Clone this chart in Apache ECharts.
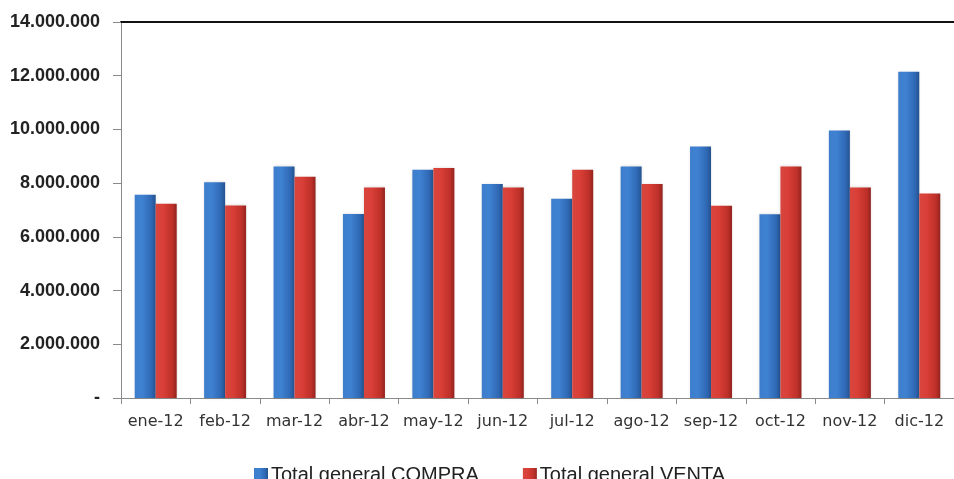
<!DOCTYPE html>
<html><head><meta charset="utf-8">
<script src="https://cdn.jsdelivr.net/npm/echarts@6/dist/echarts.min.js"></script>
<style>html,body{margin:0;padding:0;background:#fff}#c{width:954px;height:479px}</style>
</head><body><div id="c"></div>
<script>
const categories = ['ene-12','feb-12','mar-12','abr-12','may-12','jun-12','jul-12','ago-12','sep-12','oct-12','nov-12','dic-12'];
const compra = [7570000, 8030000, 8620000, 6850000, 8500000, 7970000, 7420000, 8620000, 9360000, 6840000, 9960000, 12150000];
const venta  = [7230000, 7170000, 8240000, 7840000, 8560000, 7840000, 8500000, 7970000, 7160000, 8620000, 7840000, 7610000];
const yTickLabels = ['-', '2.000.000', '4.000.000', '6.000.000', '8.000.000', '10.000.000', '12.000.000', '14.000.000'];
const seriesNames = ['Total general COMPRA', 'Total general VENTA'];

const blueGrad = new echarts.graphic.LinearGradient(0,0,1,0,[
  {offset:0,color:'#3d7dcc'},{offset:0.35,color:'#3f82d2'},{offset:0.8,color:'#2f68b4'},{offset:1,color:'#24528f'}]);
const redGrad = new echarts.graphic.LinearGradient(0,0,1,0,[
  {offset:0,color:'#d8463e'},{offset:0.35,color:'#d93f37'},{offset:0.8,color:'#bd3029'},{offset:1,color:'#92231e'}]);

const chart = echarts.init(document.getElementById('c'), null, {renderer:'canvas'});
chart.setOption({
  animation:false,
  backgroundColor:'#ffffff',
  grid:{left:121, top:22, right:-12, bottom:81, containLabel:false},
  legend:{
    left:249, top:460, itemWidth:14, itemHeight:14, itemGap:44,
    icon:'rect',
    textStyle:{fontFamily:'Liberation Sans', fontSize:20, color:'#222', padding:[0,0,0,-2]},
    data:seriesNames
  },
  xAxis:[{
    type:'category', data:categories,
    axisLine:{lineStyle:{color:'#8a8a8a', width:1}},
    axisTick:{show:true, length:6, lineStyle:{color:'#8a8a8a'}},
    axisLabel:{fontFamily:'DejaVu Sans', fontSize:16, color:'#333', margin:16, interval:0}
  },{
    type:'category', data:categories, position:'top',
    axisLine:{show:true, lineStyle:{color:'#111', width:2}},
    axisTick:{show:false}, axisLabel:{show:false}
  }],
  yAxis:{
    type:'value', min:0, max:14000000, interval:2000000,
    axisLine:{show:true, lineStyle:{color:'#8a8a8a', width:1}},
    axisTick:{show:true, inside:false, length:8, lineStyle:{color:'#8a8a8a'}},
    splitLine:{show:false},
    axisLabel:{fontFamily:'Liberation Sans', fontWeight:'bold', fontSize:18, color:'#222', margin:21,
      formatter:function(v){return yTickLabels[Math.round(v/2000000)];}}
  },
  series:[{
    name:seriesNames[0], type:'bar', data:compra, barWidth:21, barGap:'0%',
    itemStyle:{color:blueGrad, shadowColor:'rgba(0,0,0,0.15)', shadowBlur:3}
  },{
    name:seriesNames[1], type:'bar', data:venta, barWidth:21, barGap:'0%',
    itemStyle:{color:redGrad, shadowColor:'rgba(0,0,0,0.15)', shadowBlur:3}
  }]
});
</script></body></html>
